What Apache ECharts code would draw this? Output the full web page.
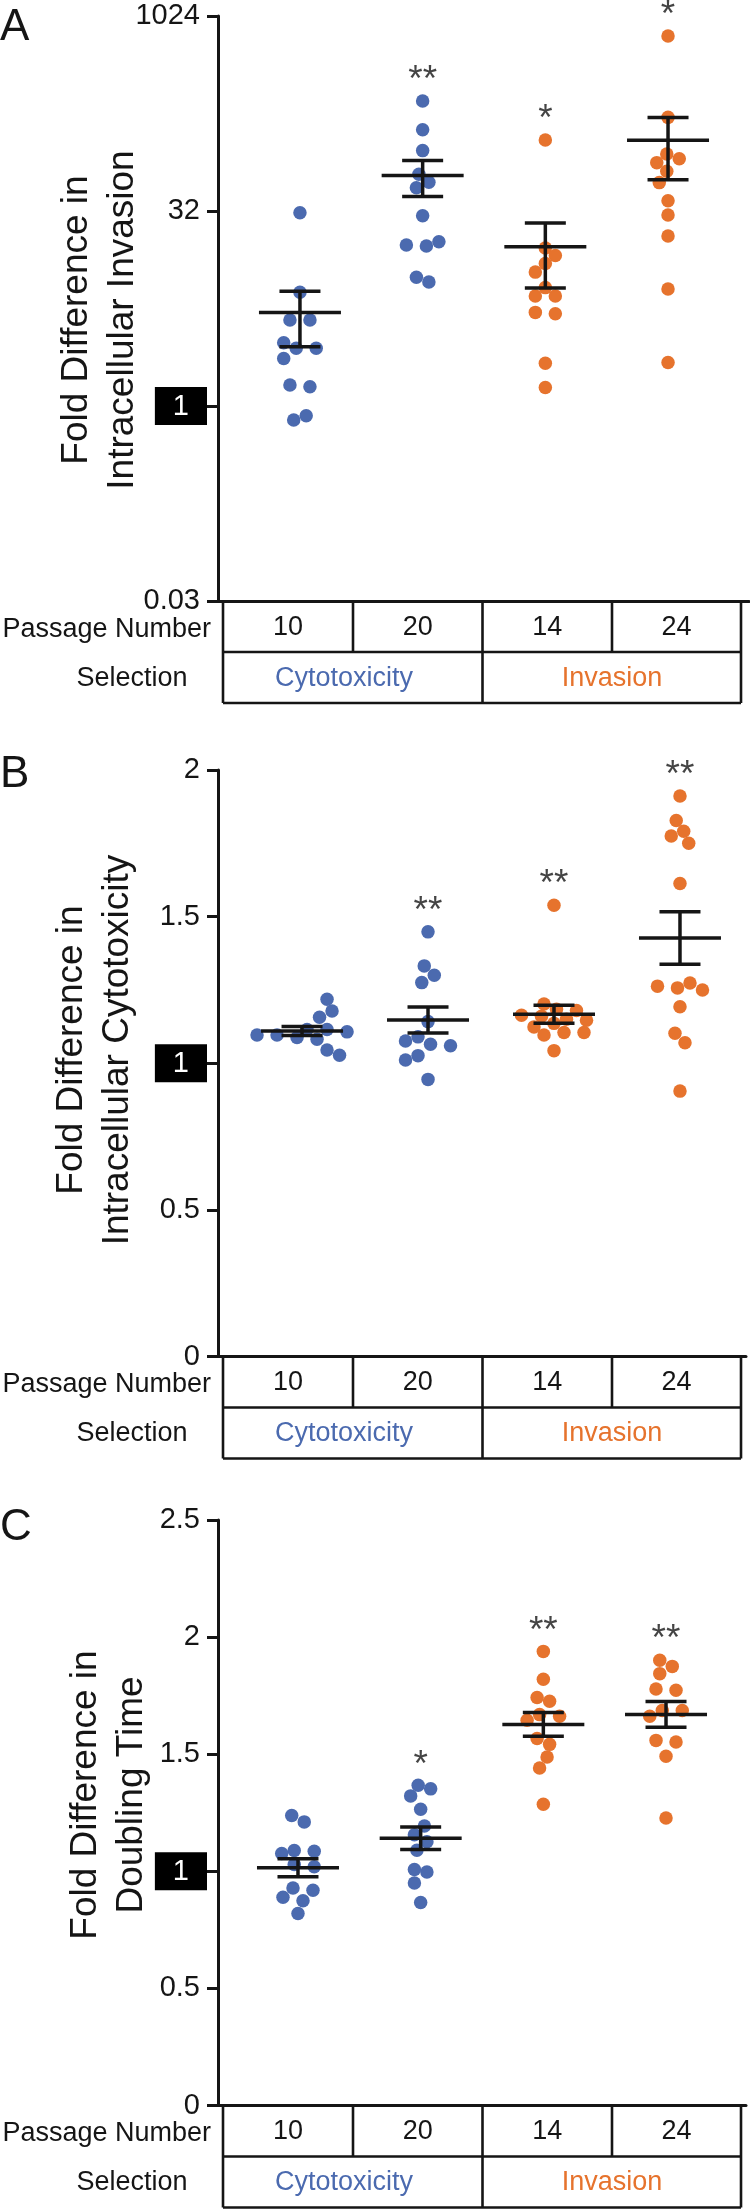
<!DOCTYPE html>
<html><head><meta charset="utf-8">
<script src="https://cdn.jsdelivr.net/npm/echarts@6/dist/echarts.min.js"></script>
<style>html,body{margin:0;padding:0;background:#fff}#chart{width:750px;height:2209px}</style>
</head><body><div id="chart"></div>
<script>
// ---------------- data ----------------
const passageNumbers = ['10', '20', '14', '24'];
const selections = ['Cytotoxicity', 'Invasion'];

// Panel A: fold difference in intracellular invasion (log2 axis)
const invasionP10 = [31, 7.55, 4.61, 4.61, 3.08, 2.79, 2.79, 2.33, 1.45, 1.41, 0.78, 0.84];
const invasionP20 = [226, 135.8, 93.6, 61.4, 53.4, 48.4, 29.4, 18.5, 17.5, 17.2, 9.85, 9.06];
const invasionP14 = [113, 16.6, 14.5, 12.6, 10.8, 8.2, 7.06, 7.06, 5.16, 5.28, 2.14, 1.39];
const invasionP24 = [718, 169, 88, 81, 75.6, 64.8, 53, 38.4, 29.8, 20.5, 8.0, 2.17];
const starsA = ['', '**', '*', '*'];
const ticksA = [0.03125, 1, 32, 1024];
const tickLabelsA = ['0.03', '1', '32', '1024'];

// Panel B: fold difference in intracellular cytotoxicity
const cytotoxP10 = [1.218, 1.178, 1.157, 1.115, 1.096, 1.096, 1.107, 1.115, 1.082, 1.088, 1.027, 1.045];
const cytotoxP20 = [1.448, 1.332, 1.300, 1.275, 1.142, 1.076, 1.090, 1.060, 1.065, 1.026, 1.011, 0.945];
const cytotoxP14 = [1.539, 1.202, 1.18, 1.184, 1.16, 1.164, 1.15, 1.147, 1.136, 1.124, 1.105, 1.105, 1.096, 1.043];
const cytotoxP24 = [1.911, 1.828, 1.791, 1.775, 1.750, 1.613, 1.257, 1.274, 1.263, 1.250, 1.193, 1.102, 1.070, 0.905];
const starsB = ['', '**', '**', '**'];
const ticksB = [0, 0.5, 1, 1.5, 2];

// Panel C: fold difference in doubling time
const doublingP10 = [1.238, 1.211, 1.089, 1.076, 1.086, 1.029, 1.019, 0.929, 0.919, 0.889, 0.874, 0.820];
const doublingP20 = [1.367, 1.352, 1.322, 1.265, 1.193, 1.156, 1.126, 1.090, 1.008, 0.997, 0.950, 0.867];
const doublingP14 = [1.939, 1.820, 1.742, 1.726, 1.662, 1.669, 1.645, 1.542, 1.567, 1.488, 1.441, 1.286];
const doublingP24 = [1.901, 1.875, 1.844, 1.778, 1.773, 1.687, 1.687, 1.662, 1.552, 1.559, 1.491, 1.228];
const starsC = ['', '*', '**', '**'];
const ticksC = [0, 0.5, 1, 1.5, 2, 2.5];

const panelLetters = ['A', 'B', 'C'];
const titleLine1 = ['Fold Difference in', 'Fold Difference in', 'Fold Difference in'];
const titleLine2 = ['Intracellular Invasion', 'Intracellular Cytotoxicity', 'Doubling Time'];
const rowLabels = ['Passage Number', 'Selection'];

// ---------------- style / layout ----------------
const BLUE = '#4B6AAF', ORANGE = '#E6732D', INK = '#151515';
const FONT = 'Liberation Sans, Arial, sans-serif';
const layout = [
  {top: 16, bottom: 601, left: 218, right: 749, xMin: -0.668, xMax: 3.66, letterY: 28, titleX: [77, 123], titleY: 320},
  {top: 770, bottom: 1356.5, left: 218, right: 746, xMin: -0.667, xMax: 3.524, letterY: 775, titleX: [72, 118], titleY: 1050},
  {top: 1520, bottom: 2105.5, left: 218, right: 746, xMin: -0.652, xMax: 3.652, letterY: 1528, titleX: [86, 132], titleY: 1795}
];
const table = {left: 223, seps: [353, 482.5, 612], right: 741, rowH: 51, selCenters: [344, 612]};

const groupsAll = [
  [invasionP10, invasionP20, invasionP14, invasionP24],
  [cytotoxP10, cytotoxP20, cytotoxP14, cytotoxP24],
  [doublingP10, doublingP20, doublingP14, doublingP24]
];
const starsAll = [starsA, starsB, starsC];

function meanSem(a) {
  const n = a.length;
  const m = a.reduce((s, v) => s + v, 0) / n;
  const sd = Math.sqrt(a.reduce((s, v) => s + (v - m) * (v - m), 0) / (n - 1));
  return [m, sd / Math.sqrt(n)];
}

function yLabelFormatter(g) {
  return function (v) {
    if (Math.abs(v - 1) < 1e-9) return '{box|1}';
    if (g === 0) {
      const i = ticksA.findIndex(t => Math.abs(t - v) / t < 1e-6);
      return '{n|' + (i >= 0 ? tickLabelsA[i] : v) + '}';
    }
    return '{n|' + v + '}';
  };
}
const labelRich = {
  n: {fontSize: 29, fontFamily: FONT, color: INK, padding: [0, 7, 0, 0]},
  box: {fontSize: 29, fontFamily: FONT, color: '#fff', backgroundColor: '#000', padding: [5, 18, 4, 18]}
};

const grids = [], xAxes = [], yAxes = [], series = [], graphics = [];
layout.forEach((L, g) => {
  grids.push({left: L.left, top: L.top, width: L.right - L.left, height: L.bottom - L.top});
  xAxes.push({
    gridIndex: g, type: 'value', min: L.xMin, max: L.xMax,
    axisLine: {show: true, onZero: false, lineStyle: {color: INK, width: 3}},
    axisTick: {show: false}, axisLabel: {show: false}, splitLine: {show: false}
  });
  const yBase = {
    gridIndex: g,
    axisLine: {show: true, onZero: false, lineStyle: {color: INK, width: 3}},
    axisTick: {show: true, length: 11, lineStyle: {color: INK, width: 3}},
    axisLabel: {margin: 11, formatter: yLabelFormatter(g), rich: labelRich, fontSize: 29, fontFamily: FONT, color: INK},
    splitLine: {show: false}
  };
  if (g === 0) {
    Object.assign(yBase, {type: 'log', logBase: 2, min: ticksA[0], max: ticksA[ticksA.length - 1]});
    yBase.axisLabel.customValues = ticksA;
    yBase.axisTick.customValues = ticksA;
  } else if (g === 1) {
    Object.assign(yBase, {type: 'value', min: ticksB[0], max: ticksB[ticksB.length - 1], interval: 0.5});
  } else {
    Object.assign(yBase, {type: 'value', min: ticksC[0], max: ticksC[ticksC.length - 1], interval: 0.5});
  }
  yAxes.push(yBase);

  const groups = groupsAll[g];
  const stats = groups.map(meanSem);
  [0, 1].forEach(sel => {
    const data = [];
    [sel * 2, sel * 2 + 1].forEach(gi => groups[gi].forEach(v => data.push([gi, v])));
    series.push({
      id: 'dots' + g + '_' + sel, type: 'scatter', xAxisIndex: g, yAxisIndex: g,
      symbol: 'circle', symbolSize: 13.5, data: data, z: 2,
      itemStyle: {color: sel === 0 ? BLUE : ORANGE, opacity: 1}
    });
  });
  series.push({
    type: 'custom', xAxisIndex: g, yAxisIndex: g, z: 3,
    data: stats.map((s, i) => [i, s[0], s[0] - s[1], s[0] + s[1]]),
    encode: {x: 0, y: [1, 2, 3]},
    renderItem: function (params, api) {
      const x = api.value(0);
      const pm = api.coord([x, api.value(1)]);
      const pl = api.coord([x, api.value(2)]);
      const ph = api.coord([x, api.value(3)]);
      const st = {stroke: INK, lineWidth: 3.5};
      return {type: 'group', children: [
        {type: 'line', shape: {x1: pm[0] - 41, y1: pm[1], x2: pm[0] + 41, y2: pm[1]}, style: st},
        {type: 'line', shape: {x1: ph[0], y1: ph[1], x2: pl[0], y2: pl[1]}, style: st},
        {type: 'line', shape: {x1: ph[0] - 20.5, y1: ph[1], x2: ph[0] + 20.5, y2: ph[1]}, style: st},
        {type: 'line', shape: {x1: pl[0] - 20.5, y1: pl[1], x2: pl[0] + 20.5, y2: pl[1]}, style: st}
      ]};
    }
  });
  series.push({
    type: 'scatter', xAxisIndex: g, yAxisIndex: g, z: 4, symbolSize: 1,
    itemStyle: {color: 'rgba(0,0,0,0)'},
    data: groups.map((a, i) => ({value: [i, Math.max.apply(null, a)], name: starsAll[g][i]})),
    label: {show: true, position: 'top', distance: 1, formatter: '{b}', fontSize: 37, fontFamily: FONT, color: INK}
  });

  // panel letter and axis titles
  graphics.push({type: 'text', x: 0, y: L.letterY, style: {text: panelLetters[g], fontSize: 44, fontFamily: FONT, fill: INK, align: 'left', verticalAlign: 'middle'}});
  graphics.push({type: 'text', x: L.titleX[0], y: L.titleY, rotation: Math.PI / 2, style: {text: titleLine1[g], fontSize: 37, fontFamily: FONT, fill: INK, align: 'center', verticalAlign: 'middle'}});
  graphics.push({type: 'text', x: L.titleX[1], y: L.titleY, rotation: Math.PI / 2, style: {text: titleLine2[g], fontSize: 37, fontFamily: FONT, fill: INK, align: 'center', verticalAlign: 'middle'}});

  // table under the axis
  const T = L.bottom, R1 = T + table.rowH, R2 = T + 2 * table.rowH;
  const ls = {stroke: INK, lineWidth: 2.6};
  const line = (x1, y1, x2, y2) => graphics.push({type: 'line', shape: {x1, y1, x2, y2}, style: ls});
  line(table.left, T, table.left, R2);
  line(table.right, T, table.right, R2);
  line(table.seps[0], T, table.seps[0], R1);
  line(table.seps[1], T, table.seps[1], R2);
  line(table.seps[2], T, table.seps[2], R1);
  line(table.left, R1, table.right, R1);
  line(table.left, R2, table.right, R2);
  const cellEdges = [table.left].concat(table.seps, [table.right]);
  passageNumbers.forEach((p, i) => {
    graphics.push({type: 'text', x: (cellEdges[i] + cellEdges[i + 1]) / 2, y: (T + R1) / 2 + 1,
      style: {text: p, fontSize: 27, fontFamily: FONT, fill: INK, align: 'center', verticalAlign: 'middle'}});
  });
  selections.forEach((s, i) => {
    graphics.push({type: 'text', x: table.selCenters[i], y: (R1 + R2) / 2 + 1,
      style: {text: s, fontSize: 27, fontFamily: FONT, fill: i === 0 ? BLUE : ORANGE, align: 'center', verticalAlign: 'middle'}});
  });
  graphics.push({type: 'text', x: 211, y: (T + R1) / 2 + 3, style: {text: rowLabels[0], fontSize: 27, fontFamily: FONT, fill: INK, align: 'right', verticalAlign: 'middle'}});
  graphics.push({type: 'text', x: 132, y: (R1 + R2) / 2 + 1, style: {text: rowLabels[1], fontSize: 27, fontFamily: FONT, fill: INK, align: 'center', verticalAlign: 'middle'}});
});

const chart = echarts.init(document.getElementById('chart'), null, {renderer: 'canvas'});
chart.setOption({animation: false, grid: grids, xAxis: xAxes, yAxis: yAxes, series: series, graphic: graphics});

// ---------- horizontal spread of overlapping dots (beeswarm computed from the values) ----------
function swarmOffsets(ys, step, D, rowTol) {
  const idx = ys.map((y, i) => i).sort((a, b) => ys[a] - ys[b]);
  const off = new Array(ys.length).fill(0);
  const placed = [];
  let r = 0;
  while (r < idx.length) {
    const row = [idx[r]];
    let k = r + 1;
    while (k < idx.length && ys[idx[k]] - ys[idx[r]] <= rowTol) { row.push(idx[k]); k++; }
    const n = row.length;
    const bias = placed.reduce((s, p) => s + p.x, 0);
    const sgn = bias > 0 ? -1 : 1;
    const shifts = [0];
    for (let q = 1; q <= 24; q++) { shifts.push(sgn * q * 2.5, -sgn * q * 2.5); }
    let chosen = null;
    outer:
    for (let s = 0; s < 4; s++) {
      for (const sh of shifts) {
        const pos = row.map((_, j) => { const c = j - (n - 1) / 2; return c * step + Math.sign(c) * s * step / 2 + sh; });
        const ok = row.every((id, j) => placed.every(p => Math.hypot(p.x - pos[j], p.y - ys[id]) >= D));
        if (ok) { chosen = pos; break outer; }
      }
    }
    if (!chosen) chosen = row.map((_, j) => (j - (n - 1) / 2) * step);
    row.forEach((id, j) => { off[id] = chosen[j]; placed.push({x: chosen[j], y: ys[id], id: id}); });
    r = k;
  }
  // centre every vertically connected cluster (clusters never touch each other)
  let start = 0;
  for (let i = 1; i <= idx.length; i++) {
    if (i === idx.length || ys[idx[i]] - ys[idx[i - 1]] >= D) {
      const ids = idx.slice(start, i);
      const xs = ids.map(id => off[id]);
      const c = (Math.max.apply(null, xs) + Math.min.apply(null, xs)) / 2;
      ids.forEach(id => { off[id] -= c; });
      start = i;
    }
  }
  return off;
}

const update = [];
layout.forEach((L, g) => {
  const groups = groupsAll[g];
  const px0 = chart.convertToPixel({gridIndex: g}, [0, groups[0][0]]);
  const px1 = chart.convertToPixel({gridIndex: g}, [1, groups[0][0]]);
  const unitPerPx = 1 / (px1[0] - px0[0]);
  [0, 1].forEach(sel => {
    const data = [];
    [sel * 2, sel * 2 + 1].forEach(gi => {
      const ys = groups[gi].map(v => chart.convertToPixel({gridIndex: g}, [gi, v])[1]);
      const off = swarmOffsets(ys, 20, 12.5, 2.5);
      groups[gi].forEach((v, j) => data.push([gi + off[j] * unitPerPx, v]));
    });
    update.push({id: 'dots' + g + '_' + sel, data: data});
  });
});
chart.setOption({series: update});
</script></body></html>
